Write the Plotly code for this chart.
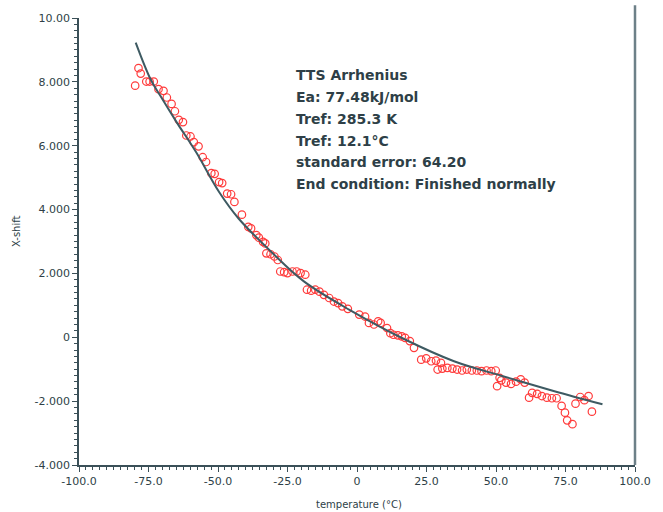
import plotly.graph_objects as go

# measured data (temperature °C, X-shift)
temp = [-79.8, -78.6, -77.8, -75.8, -74.6, -73.1, -71.4, -69.6, -68.4, -66.7, -65.5, -64.1, -62.6,
        -61.4, -59.9, -58.7, -57.0, -55.5, -54.3, -52.4, -51.2, -49.6, -48.5, -46.7, -45.3, -44.1,
        -41.4, -39.1, -38.1, -36.2, -35.3, -33.8, -33.0, -32.6, -31.1, -29.7, -28.5, -27.6, -26.2,
        -25.0, -23.2, -21.7, -20.3, -18.6, -18.0, -16.5, -15.0, -13.5, -11.9, -10.0, -8.3, -6.8,
        -5.3, -3.3, 0.8, 2.9, 4.3, 6.1, 7.6, 8.5, 10.8, 12.0, 13.1, 14.7, 16.1, 17.3, 19.0, 20.5,
        23.1, 24.9, 26.7, 28.4, 30.2, 29.0, 30.7, 32.5, 34.3, 36.0, 37.8, 39.5, 41.3, 43.1, 44.8,
        46.6, 48.3, 49.9, 51.3, 50.4, 51.9, 53.6, 55.4, 57.2, 58.9, 60.3, 61.9, 63.0, 64.8, 66.5,
        68.3, 70.1, 71.8, 73.6, 74.8, 75.6, 77.5, 78.6, 80.3, 81.8, 83.3, 84.5]
xshift = [7.88, 8.43, 8.26, 8.01, 8.01, 8.01, 7.77, 7.72, 7.51, 7.31, 7.08, 6.81, 6.74,
          6.32, 6.29, 6.11, 5.98, 5.64, 5.49, 5.14, 5.12, 4.86, 4.83, 4.50, 4.48, 4.24,
          3.84, 3.46, 3.41, 3.20, 3.12, 2.99, 2.94, 2.63, 2.60, 2.53, 2.42, 2.06, 2.04,
          2.01, 2.06, 2.06, 2.01, 1.96, 1.49, 1.46, 1.49, 1.43, 1.33, 1.23, 1.12, 1.07,
          0.97, 0.89, 0.71, 0.65, 0.45, 0.40, 0.50, 0.45, 0.29, 0.13, 0.08, 0.06, 0.03, -0.02, -0.12, -0.33,
          -0.70, -0.66, -0.75, -0.73, -0.80, -1.01, -0.98, -0.96, -0.98, -1.01, -1.04, -1.01, -1.04, -1.04, -1.06,
          -1.04, -1.06, -1.04, -1.27, -1.53, -1.35, -1.42, -1.46, -1.39, -1.32, -1.42, -1.89, -1.74, -1.77, -1.84,
          -1.89, -1.91, -1.91, -2.15, -2.36, -2.60, -2.72, -2.08, -1.87, -1.97, -1.84, -2.33]

# fitted curve
fit_t = [-79.6, -74.3, -70.8, -64.9, -57.9, -49.6, -42.6, -30.9, -19.1, -2.7, 17.3, 34.9, 52.5, 70.7, 88.3]
fit_y = [9.23, 8.09, 7.57, 6.74, 5.80, 4.55, 3.72, 2.68, 1.75, 0.86, -0.07, -0.75, -1.22, -1.68, -2.10]

xticks = [-100, -75, -50, -25, 0, 25, 50, 75, 100]
xtick_text = ["-100.0", "-75.0", "-50.0", "-25.0", "0", "25.0", "50.0", "75.0", "100.0"]
yticks = [-4, -2, 0, 2, 4, 6, 8, 10]
ytick_text = ["-4.000", "-2.000", "0", "2.000", "4.000", "6.000", "8.000", "10.00"]

info_lines = ["TTS Arrhenius", "Ea: 77.48kJ/mol", "Tref: 285.3 K", "Tref: 12.1°C",
              "standard error: 64.20", "End condition: Finished normally"]

W, H = 663, 512
L, R, T, B = 79, 24, 13, 47
axis_col = "#3b5058"
text_col = "#2e3f47"

fig = go.Figure()
fig.add_trace(go.Scatter(x=temp, y=xshift, mode="markers",
                         marker=dict(symbol="circle-open", size=7.5, color="#ff3b3b", line=dict(width=1.2)),
                         showlegend=False, hoverinfo="skip"))
fig.add_trace(go.Scatter(x=fit_t, y=fit_y, mode="lines", line=dict(color="#3e5a62", width=2, shape="spline"),
                         showlegend=False, hoverinfo="skip"))

pw, ph = W - L - R, H - T - B


def px2paper(px, py):
    return (px - L) / pw, (H - B - py) / ph


annotations = []
line_y = [71, 93, 115, 137, 159, 181]
for txt, py in zip(info_lines, line_y):
    xp, yp = px2paper(296, py)
    annotations.append(dict(x=xp, y=yp, xref="paper", yref="paper", text="<b>" + txt + "</b>",
                            showarrow=False, xanchor="left", yanchor="middle",
                            font=dict(family="DejaVu Sans", size=14, color=text_col)))
xp, yp = px2paper(361, 505)
annotations.append(dict(x=xp, y=yp, xref="paper", yref="paper", text="temperature (°C)", showarrow=False,
                        xanchor="center", yanchor="middle", font=dict(family="DejaVu Sans", size=10, color=text_col)))
xp, yp = px2paper(16, 228)
annotations.append(dict(x=xp, y=yp, xref="paper", yref="paper", text="X-shift", showarrow=False, textangle=-90,
                        xanchor="center", yanchor="middle", font=dict(family="DejaVu Sans", size=10, color=text_col)))

tickfont = dict(family="DejaVu Sans", size=11, color=text_col)
fig.update_layout(
    width=W, height=H, margin=dict(l=L, r=R, t=T, b=B, pad=0),
    paper_bgcolor="white", plot_bgcolor="white",
    annotations=annotations,
    xaxis=dict(range=[-100, 100], tickvals=xticks, ticktext=xtick_text, showgrid=False, zeroline=False,
               showline=True, linecolor=axis_col, linewidth=1.5, ticks="outside", ticklen=5, tickwidth=1,
               tickcolor=axis_col, tickfont=tickfont,
               minor=dict(dtick=2.5, ticks="outside", ticklen=3, tickcolor=axis_col, showgrid=False)),
    yaxis=dict(range=[-4, 10], tickvals=yticks, ticktext=ytick_text, showgrid=False, zeroline=False,
               showline=True, linecolor=axis_col, linewidth=1.5, ticks="outside", ticklen=5, tickwidth=1,
               tickcolor=axis_col, tickfont=tickfont,
               minor=dict(dtick=0.2, ticks="outside", ticklen=3, tickcolor=axis_col, showgrid=False)),
    shapes=[dict(type="line", xref="paper", yref="paper", x0=1, x1=1, y0=0, y1=1 + T / ph,
                 line=dict(color="#6d8088", width=2.5))],
)

fig.write_html("out.html")
